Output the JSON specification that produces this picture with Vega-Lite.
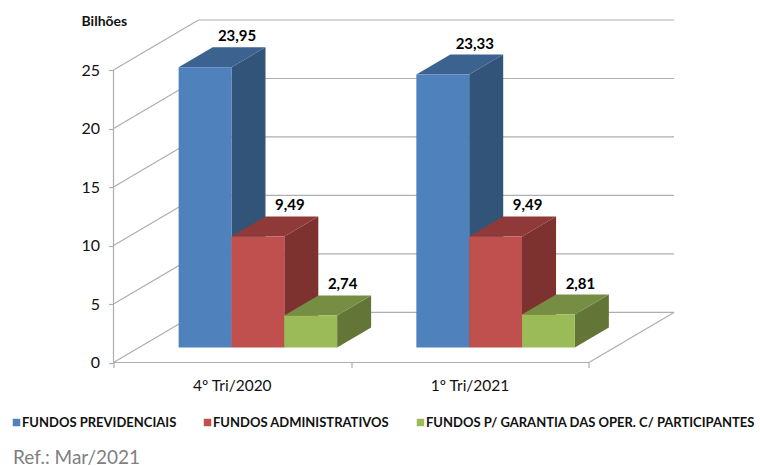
{
"$schema":"https://vega.github.io/schema/vega-lite/v6.json",
"width":560.5,"height":342.5,
"autosize":{"type":"none"},
"padding":{"left":113.5,"top":20,"right":86,"bottom":103.5},
"background":"white",
"title":{"text":"Ref.: Mar/2021","orient":"bottom","anchor":"start","frame":"group","dx":-100.5,"dy":-8,"offset":36,"baseline":"middle","font":"Lato","fontSize":19,"fontWeight":"normal","color":"#7f7f7f"},
"datasets":{
"barras":[
{"periodo":"4º Tri/2020","serie":"FUNDOS PREVIDENCIAIS","valor":23.95},
{"periodo":"4º Tri/2020","serie":"FUNDOS ADMINISTRATIVOS","valor":9.49},
{"periodo":"4º Tri/2020","serie":"FUNDOS P/ GARANTIA DAS OPER. C/ PARTICIPANTES","valor":2.74},
{"periodo":"1º Tri/2021","serie":"FUNDOS PREVIDENCIAIS","valor":23.33},
{"periodo":"1º Tri/2021","serie":"FUNDOS ADMINISTRATIVOS","valor":9.49},
{"periodo":"1º Tri/2021","serie":"FUNDOS P/ GARANTIA DAS OPER. C/ PARTICIPANTES","valor":2.81}
],
"marcas":[{"marca":0},{"marca":5},{"marca":10},{"marca":15},{"marca":20},{"marca":25}]
},
"data":{"name":"barras"},
"transform":[
{"calculate":"indexof(['4º Tri/2020','1º Tri/2021'],datum.periodo)","as":"g"},
{"calculate":"indexof(['FUNDOS PREVIDENCIAIS','FUNDOS ADMINISTRATIVOS','FUNDOS P/ GARANTIA DAS OPER. C/ PARTICIPANTES'],datum.serie)","as":"i"},
{"calculate":"datum.g+1/6+datum.i*2/9+0.3*0.3578","as":"X0"},
{"calculate":"datum.X0+2/9","as":"X1"},
{"calculate":"0.3*4.28","as":"base"},
{"calculate":"datum.valor+datum.base","as":"topo"}
],
"layer":[
{"data":{"name":"marcas"},
 "transform":[{"calculate":"datum.marca+4.28","as":"fundo"}],
 "mark":{"type":"rule","color":"#aeaeae","strokeWidth":1.2},
 "encoding":{
  "x":{"datum":0,"type":"quantitative","scale":{"domain":[0,2.3578],"nice":false,"zero":false},
   "axis":{"values":[0,1,2],"labels":false,"title":null,"domain":false,"grid":false,"tickSize":5,"tickColor":"#aeaeae","tickWidth":1.2}},
  "x2":{"datum":0.3578},
  "y":{"field":"marca","type":"quantitative","scale":{"domain":[0,29.28],"nice":false,"zero":false},
   "axis":{"values":[0,5,10,15,20,25],"grid":false,"domain":false,"tickSize":5,"tickColor":"#aeaeae","tickWidth":1.2,"labelFont":"Lato","labelFontSize":16,"labelColor":"#111111","labelPadding":9,
    "title":"Bilhões","titleFont":"Lato","titleFontSize":14,"titleFontWeight":"bold","titleColor":"#111111","titleAngle":0,"titleX":-32.5,"titleY":1,"titleAlign":"left","titleBaseline":"middle"}},
  "y2":{"field":"fundo"}
 }},
{"data":{"name":"marcas"},
 "transform":[{"calculate":"datum.marca+4.28","as":"fundo"}],
 "mark":{"type":"rule","color":"#aeaeae","strokeWidth":1.2},
 "encoding":{"x":{"datum":0.3578,"type":"quantitative"},"x2":{"datum":2.3578},"y":{"field":"fundo","type":"quantitative"}}},
{"data":{"name":"marcas"},
 "transform":[{"filter":"datum.marca==0"},{"calculate":"4.28","as":"fundo"}],
 "mark":{"type":"rule","color":"#aeaeae","strokeWidth":1.2},
 "encoding":{"x":{"datum":2,"type":"quantitative"},"x2":{"datum":2.3578},"y":{"field":"marca","type":"quantitative"},"y2":{"field":"fundo"}}},
{"data":{"name":"marcas"},
 "transform":[{"filter":"datum.marca==0"}],
 "mark":{"type":"rule","color":"#aeaeae","strokeWidth":1.2},
 "encoding":{"x":{"datum":0,"type":"quantitative"},"x2":{"datum":2},"y":{"field":"marca","type":"quantitative"}}},
{"data":{"name":"marcas"},
 "transform":[{"filter":"datum.marca==0"},{"calculate":"25","as":"alto"}],
 "mark":{"type":"rule","color":"#aeaeae","strokeWidth":1.2},
 "encoding":{"x":{"datum":0,"type":"quantitative"},"y":{"field":"marca","type":"quantitative"},"y2":{"field":"alto"}}},
{"transform":[
  {"calculate":"[0,1]","as":"k"},{"flatten":["k"]},
  {"calculate":"datum.X1+datum.k*0.4*0.3578","as":"px"},
  {"calculate":"datum.base+datum.k*0.4*4.28","as":"py"},
  {"calculate":"datum.topo+datum.k*0.4*4.28","as":"py2"}],
 "mark":{"type":"area","orient":"vertical","interpolate":"linear"},
 "encoding":{
  "x":{"field":"px","type":"quantitative"},
  "y":{"field":"py","type":"quantitative"},"y2":{"field":"py2"},
  "detail":{"field":"X0"},
  "color":{"field":"serie","type":"nominal","legend":null,"sort":null,
   "scale":{"domain":["FUNDOS PREVIDENCIAIS","FUNDOS ADMINISTRATIVOS","FUNDOS P/ GARANTIA DAS OPER. C/ PARTICIPANTES"],"range":["#325479","#7d3230","#637637"]}}
 }},
{"transform":[
  {"calculate":"[0,1,2,3]","as":"k"},{"flatten":["k"]},
  {"calculate":"datum.X0+[0,0.4*0.3578,2/9,2/9+0.4*0.3578][datum.k]","as":"px"},
  {"calculate":"datum.topo+(datum.k==3?0.4*4.28:0)","as":"py"},
  {"calculate":"datum.topo+(datum.k==0?0:0.4*4.28)","as":"py2"}],
 "mark":{"type":"area","orient":"vertical","interpolate":"linear"},
 "encoding":{
  "x":{"field":"px","type":"quantitative"},
  "y":{"field":"py","type":"quantitative"},"y2":{"field":"py2"},
  "detail":{"field":"X0"},
  "color":{"field":"serie","type":"nominal","legend":null,"sort":null,
   "scale":{"domain":["FUNDOS PREVIDENCIAIS","FUNDOS ADMINISTRATIVOS","FUNDOS P/ GARANTIA DAS OPER. C/ PARTICIPANTES"],"range":["#3c628f","#8f3a38","#768e43"]}}
 }},
{"mark":{"type":"rect"},
 "encoding":{
  "x":{"field":"X0","type":"quantitative"},"x2":{"field":"X1"},
  "y":{"field":"topo","type":"quantitative"},"y2":{"field":"base"},
  "color":{"field":"serie","type":"nominal","sort":null,
   "scale":{"domain":["FUNDOS PREVIDENCIAIS","FUNDOS ADMINISTRATIVOS","FUNDOS P/ GARANTIA DAS OPER. C/ PARTICIPANTES"],"range":["#4f81bd","#c0504d","#9bbb59"]},
   "legend":{"orient":"none","legendX":-103.5,"legendY":396,"direction":"horizontal","columns":3,"title":null,"symbolType":"square","symbolSize":56,"symbolStrokeWidth":0,"labelFont":"Lato","labelFontSize":13,"labelFontWeight":"bold","labelColor":"#111111","columnPadding":24,"labelLimit":400,"labelOffset":-1,"gridAlign":"none"}}
 }},
{"transform":[
  {"calculate":"replace(format(datum.valor,'.2f'),'.',',')","as":"rotulo"},
  {"calculate":"datum.X0+1/9+0.2*0.3578","as":"px"},
  {"calculate":"datum.topo+0.4*4.28","as":"py"}],
 "mark":{"type":"text","font":"Lato","fontSize":15,"fontWeight":"bold","color":"#000000","dx":15,"dy":-11},
 "encoding":{"x":{"field":"px","type":"quantitative"},"y":{"field":"py","type":"quantitative"},"text":{"field":"rotulo"}}},
{"transform":[
  {"aggregate":[{"op":"min","field":"g","as":"gg"}],"groupby":["periodo"]},
  {"calculate":"datum.gg+0.5","as":"px"},{"calculate":"0","as":"py"}],
 "mark":{"type":"text","font":"Lato","fontSize":15.5,"color":"#111111","dy":23},
 "encoding":{"x":{"field":"px","type":"quantitative"},"y":{"field":"py","type":"quantitative"},"text":{"field":"periodo"}}}
],
"resolve":{"scale":{"color":"independent"}},
"config":{"view":{"stroke":null}}
}
